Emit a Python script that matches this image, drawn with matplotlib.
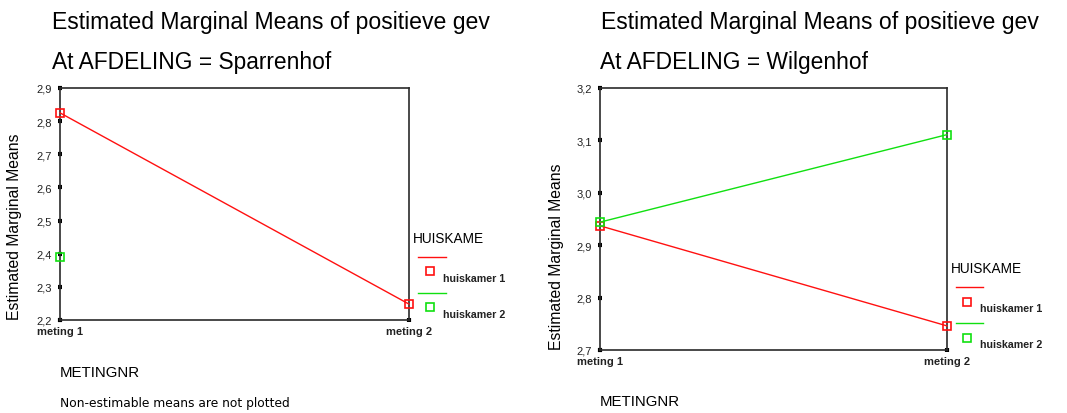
import numpy as np
import matplotlib
matplotlib.use("Agg")
import matplotlib.pyplot as plt
from matplotlib.lines import Line2D
from matplotlib.ticker import FuncFormatter, FixedLocator

plt.rcParams['font.family'] = ['Liberation Sans', 'DejaVu Sans']

# ---- data ----
categories = ['meting 1', 'meting 2']
groups = ['huiskamer 1', 'huiskamer 2']
sparrenhof_h1 = [2.825, 2.248]
sparrenhof_h2 = [2.391, np.nan]
wilgenhof_h1 = [2.937, 2.746]
wilgenhof_h2 = [2.944, 3.111]
sparrenhof_yticks = [2.2, 2.3, 2.4, 2.5, 2.6, 2.7, 2.8, 2.9]
wilgenhof_yticks = [2.7, 2.8, 2.9, 3.0, 3.1, 3.2]

W, H = 1067, 414
RED = '#ff1010'
GREEN = '#10e010'
MS = 5.4

fig = plt.figure(figsize=(W / 100, H / 100), dpi=100)
fig.patch.set_facecolor('white')


def fx(px):
    return px / W


def fy(py):
    return 1 - py / H


def make_axes(x0, x1, y0, y1):
    return fig.add_axes([fx(x0), fy(y1), fx(x1) - fx(x0), (y1 - y0) / H])


def style(ax, ylim, yticks):
    ax.set_xlim(0, 1)
    ax.set_ylim(*ylim)
    ax.xaxis.set_major_locator(FixedLocator([0, 1]))
    ax.set_xticklabels(categories)
    ax.yaxis.set_major_locator(FixedLocator(yticks))
    ax.yaxis.set_major_formatter(FuncFormatter(lambda v, p: f"{v:.1f}".replace('.', ',')))
    for s in ax.spines.values():
        s.set_color('#2a2a2a')
        s.set_linewidth(1.2)
    ax.tick_params(axis='both', direction='inout', length=3.2, width=3, color='black',
                   labelsize=8, labelcolor='#222222')
    ax.tick_params(axis='y', pad=4)
    ax.tick_params(axis='x', pad=3)
    for lab in ax.get_xticklabels():
        lab.set_fontweight('bold')


def plot_series(ax, h1, h2):
    x = np.arange(len(categories))
    ax.plot(x, h1, color=RED, lw=1.0, marker='s', ms=MS, mfc='none', mec=RED, mew=1.2,
            clip_on=False, zorder=3)
    ax.plot(x, h2, color=GREEN, lw=1.0, marker='s', ms=MS, mfc='none', mec=GREEN, mew=1.2,
            clip_on=False, zorder=3)


def legend(x_title, y_title, x_line0, x_line1, y_line1, x_sq, y_sq1, x_lab, y_lab1, dy):
    fig.text(fx(x_title), fy(y_title), 'HUISKAME', fontsize=9.8, va='center', ha='left')
    for i, (c, g) in enumerate(zip([RED, GREEN], groups)):
        off = i * dy
        fig.add_artist(Line2D([fx(x_line0), fx(x_line1)], [fy(y_line1 + off)] * 2,
                              color=c, lw=1.0, transform=fig.transFigure))
        fig.add_artist(Line2D([fx(x_sq)], [fy(y_sq1 + off)], marker='s', ms=5.8, mfc='none',
                              mec=c, mew=1.2, transform=fig.transFigure))
        fig.text(fx(x_lab), fy(y_lab1 + off), g, fontsize=7.7, va='center', ha='left',
                 fontweight='bold', color='#222222')


# ---- left panel: Sparrenhof ----
ax1 = make_axes(60, 409, 89, 321)
style(ax1, (2.2, 2.9), sparrenhof_yticks)
plot_series(ax1, sparrenhof_h1, sparrenhof_h2)
fig.text(fx(15), fy(227), 'Estimated Marginal Means', rotation=90, fontsize=11.3,
         va='center', ha='center')
fig.text(fx(52), fy(28.5), 'Estimated Marginal Means of positieve gev', fontsize=16.6,
         va='baseline', ha='left')
fig.text(fx(52), fy(69), 'At AFDELING = Sparrenhof', fontsize=16.4, va='baseline', ha='left')
fig.text(fx(60), fy(373), 'METINGNR', fontsize=10.8, va='center', ha='left')
fig.text(fx(60), fy(404), 'Non-estimable means are not plotted', fontsize=8.8,
         va='center', ha='left', family='DejaVu Sans')
legend(413, 239, 418, 446, 258, 430, 272, 443, 279, 36)

# ---- right panel: Wilgenhof ----
ax2 = make_axes(600, 947, 89, 351)
style(ax2, (2.7, 3.2), wilgenhof_yticks)
plot_series(ax2, wilgenhof_h1, wilgenhof_h2)
fig.text(fx(557), fy(257), 'Estimated Marginal Means', rotation=90, fontsize=11.3,
         va='center', ha='center')
fig.text(fx(601), fy(28.5), 'Estimated Marginal Means of positieve gev', fontsize=16.6,
         va='baseline', ha='left')
fig.text(fx(600), fy(69), 'At AFDELING = Wilgenhof', fontsize=16.4, va='baseline', ha='left')
fig.text(fx(600), fy(402), 'METINGNR', fontsize=10.8, va='center', ha='left')
legend(951, 269, 956, 983, 288, 967, 303, 980, 309, 36)

fig.savefig('out.png', dpi=100, facecolor='white')
